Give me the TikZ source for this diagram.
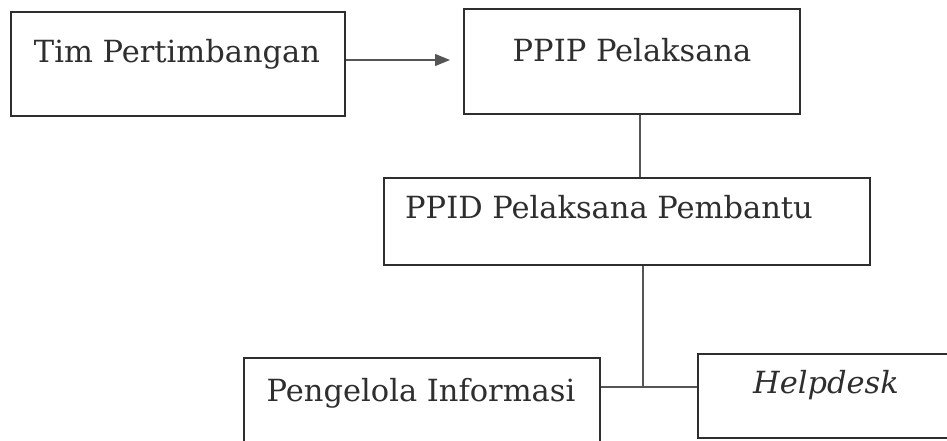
\documentclass[tikz,border=0pt]{standalone}
\usepackage{fontspec}
\setmainfont{DejaVu Serif}
\usetikzlibrary{arrows.meta}
\definecolor{ink}{HTML}{2E2E2E}
\definecolor{wirec}{HTML}{555555}
\begin{document}
\begin{tikzpicture}[x=1pt,y=-1pt,
  box/.style={draw=ink, line width=2.2pt, inner sep=0pt, anchor=north west},
  lbl/.style={anchor=base, text=ink, font=\fontsize{30.5}{36}\selectfont, inner sep=0pt},
  wire/.style={draw=wirec, line width=1.3pt}]
\useasboundingbox (0,0) rectangle (947,441);
\clip (0,0) rectangle (947,441);
\fill[white] (0,0) rectangle (947,441);
% boxes
\node[box, minimum width=334pt, minimum height=104pt] (b1) at (10,11) {};
\node[box, minimum width=336pt, minimum height=105pt] (b2) at (463,8) {};
\node[box, minimum width=486pt, minimum height=87pt] (b3) at (383,177) {};
\node[box, minimum width=356pt, minimum height=100pt] (b4) at (243,357) {};
\node[box, minimum width=253pt, minimum height=84pt] (b5) at (697,353) {};
% labels
\node[lbl] (t1) at (177,63) {Tim Pertimbangan};
\node[lbl] (t2) at (632,62) {PPIP Pelaksana};
\node[lbl, anchor=base west] (t3) at (405,218) {PPID Pelaksana Pembantu};
\node[lbl] (t4) at (421,401) {Pengelola Informasi};
\node[lbl] (t5) at (826,393) {\itshape Helpdesk};
% connectors
\coordinate (ja) at (0,60);
\draw[wire, -{Triangle[length=15pt,width=12pt]}, shorten >=13pt] (b1.east |- ja) -- (b2.west |- ja);
\coordinate (v1) at (640,0);
\draw[wire] (b2.south -| v1) -- (b3.north -| v1);
\coordinate (j) at (643,387);
\draw[wire] (b3.south -| j) -- (j);
\draw[wire] (b4.east |- j) -- (b5.west |- j);
\end{tikzpicture}
\end{document}
